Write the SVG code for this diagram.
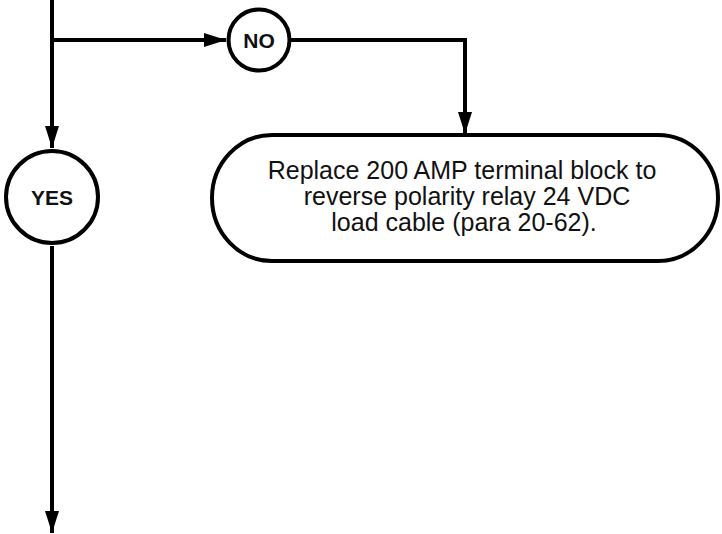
<svg xmlns="http://www.w3.org/2000/svg" width="722" height="534" viewBox="0 0 722 534">
<style>
.ln{fill:none;stroke:#000;stroke-width:4}
.nd{fill:#fff;stroke:#000;stroke-width:4}
.lbl{font-family:"Liberation Sans",Arial,sans-serif;font-weight:bold;font-size:21px;text-anchor:middle;fill:#111}
.txt{font-family:"Liberation Sans",Arial,sans-serif;font-size:25px;text-anchor:middle;fill:#111}
</style>
<defs>
<marker id="ah" markerUnits="userSpaceOnUse" markerWidth="22" markerHeight="14" refX="22" refY="7" orient="auto">
<path d="M0,0 L22,7 L0,14 Z" fill="#000"/>
</marker>
</defs>
<g id="connectors">
<path class="ln" d="M52,0 V148" marker-end="url(#ah)"/>
<path class="ln" d="M52,40 H226" marker-end="url(#ah)"/>
<path class="ln" d="M291,40 H465 V134" marker-end="url(#ah)"/>
<path class="ln" d="M52,246 V533" marker-end="url(#ah)"/>
</g>
<g id="no">
<circle class="nd" cx="259" cy="40" r="30.5"/>
<text class="lbl" x="259" y="48">NO</text>
</g>
<g id="yes">
<circle class="nd" cx="52" cy="197" r="46"/>
<text class="lbl" x="52" y="205">YES</text>
</g>
<g id="action">
<rect class="nd" x="212" y="135" width="506" height="126" rx="60" ry="63"/>
<text class="txt" x="462" y="179">Replace 200 AMP terminal block to</text>
<text class="txt" x="467" y="205">reverse polarity relay 24 VDC</text>
<text class="txt" x="464" y="231">load cable (para 20-62).</text>
</g>
</svg>
